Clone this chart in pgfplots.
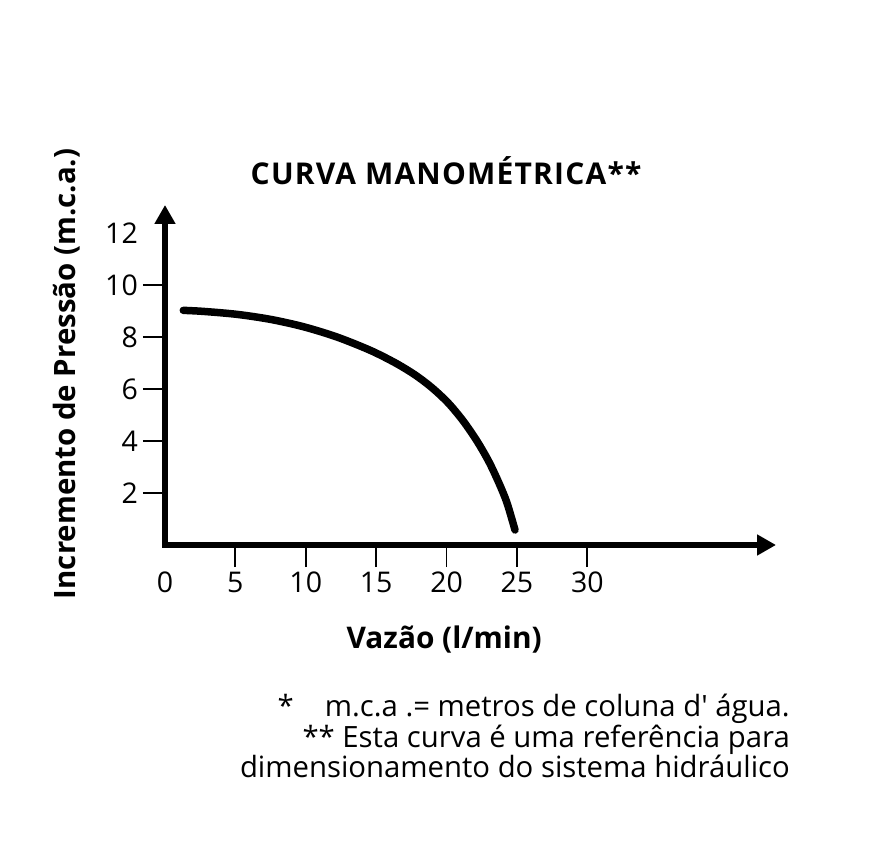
\documentclass[border=0pt]{standalone}
\usepackage{fontspec}
\setmainfont{Open Sans}[Ligatures=TeXOff]
\usepackage{pgfplots}
\pgfplotsset{compat=1.18}
\usetikzlibrary{arrows.meta}

\begin{document}
\begin{tikzpicture}[x=1pt,y=1pt]
\useasboundingbox (0,0) rectangle (885,853);
\begin{axis}[
    at={(165pt,308pt)}, anchor=south west,
    scale only axis,
    width=611pt, height=340pt,
    xmin=0, xmax=43.4, ymin=0, ymax=13.08,
    axis lines=left,
    axis line style={line width=6pt, line cap=rect, -{Triangle[length=19pt,width=20pt]}},
    xtick={5,10,...,30}, ytick={2,4,...,10},
    extra x ticks={0}, extra y ticks={12},
    extra tick style={major tick style={draw=none}},
    tick align=outside,
    major tick length=22pt,
    major tick style={line width=1.8pt, black},
    /pgf/number format/assume math mode=true,
    every tick label/.append style={inner sep=0pt, font=\fontsize{28.5}{30}\selectfont},
    xticklabel style={yshift=-5pt},
    yticklabel style={xshift=-5pt},
    title={\bfseries\addfontfeatures{LetterSpace=4}CURVA MANOMÉTRICA**},
    title style={at={(rel axis cs:0.460,1.082)}, anchor=center, font=\fontsize{30}{32}\selectfont},
    xlabel={\bfseries Vazão (l/min)},
    xlabel style={at={(rel axis cs:0.457,-0.304)}, anchor=base, font=\fontsize{29.8}{31}\selectfont},
    ylabel={\bfseries Incremento de Pressão (m.c.a.)},
    ylabel style={at={(rel axis cs:-0.1473,0.503)}, anchor=base, font=\fontsize{29.4}{31}\selectfont},
    clip=false,
]
\addplot[black, line width=7.5pt, line cap=round, line join=round, smooth, tension=0.5] coordinates {
    (1.30,9.027) (2.72,8.987) (5.09,8.874) (7.46,8.683) (9.82,8.399)
    (12.19,8.006) (14.56,7.494) (16.34,7.012) (17.76,6.545) (18.96,6.052)
    (20.10,5.474) (21.16,4.787) (22.16,4.000) (23.01,3.201) (23.72,2.385)
    (24.29,1.623) (24.86,0.577)
};
\end{axis}
\node[anchor=north east, align=right, inner sep=0pt,
      font=\fontsize{29.3}{28.5}\selectfont] at (790,853-694) {%
    *\hspace{0.8em} m.c.a .= metros de coluna d' água.\\
    ** Esta curva é uma referência para\\
    dimensionamento do sistema hidráulico};
\end{tikzpicture}
\end{document}
